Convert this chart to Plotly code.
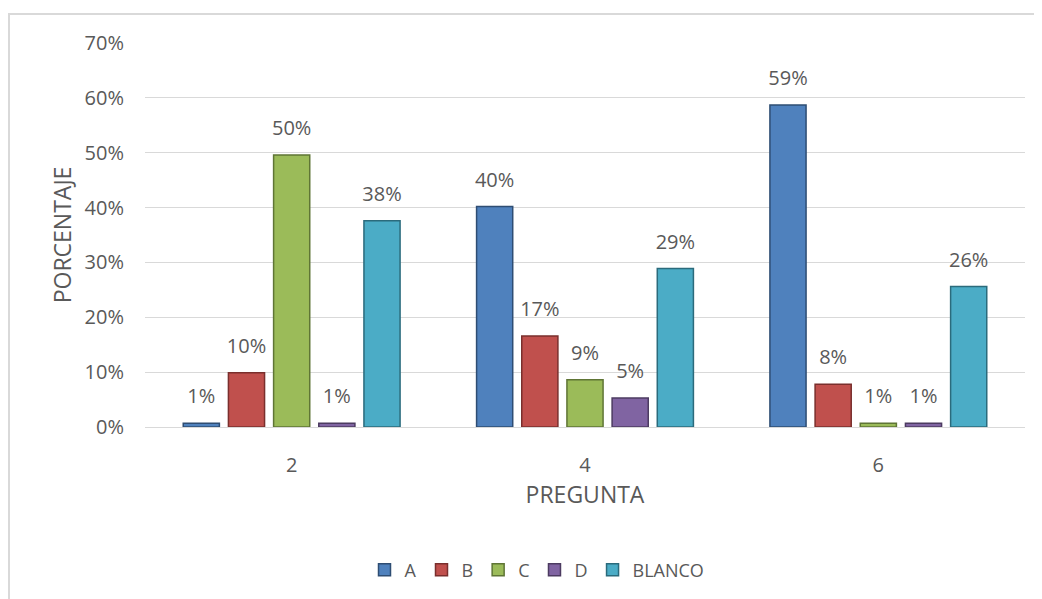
import plotly.graph_objects as go

categories = ["2", "4", "6"]
series_names = ["A", "B", "C", "D", "BLANCO"]
vals_A = [0.007, 0.402, 0.587]
vals_B = [0.099, 0.166, 0.078]
vals_C = [0.496, 0.086, 0.007]
vals_D = [0.007, 0.053, 0.007]
vals_BLANCO = [0.376, 0.289, 0.256]
y_ticks = [0, 0.1, 0.2, 0.3, 0.4, 0.5, 0.6, 0.7]

colors = ["#4F81BD", "#C0504D", "#9BBB59", "#8064A2", "#4BACC6"]
edge = ["#2E4D73", "#7A2F2D", "#5F7535", "#4C3B61", "#2B6B7C"]
series_vals = [vals_A, vals_B, vals_C, vals_D, vals_BLANCO]

# page has an 8px body margin, so the figure is drawn 8px in from the window edge
W, H = 1034, 591
ml, mr, mt, mb = 137, 17, 35, 171
pw, ph = W - ml - mr, H - mt - mb
FONT = "Open Sans, sans-serif"
GRAY = "#595959"

fig = go.Figure()
for name, v, c, e in zip(series_names, series_vals, colors, edge):
    fig.add_trace(go.Bar(
        name=name, x=categories, y=v, offsetgroup=name,
        marker=dict(color=c, line=dict(color=e, width=1.5)),
    ))
for name, v in zip(series_names, series_vals):
    fig.add_trace(go.Scatter(
        name=name, x=categories, y=v, offsetgroup=name,
        mode="markers+text", showlegend=False, hoverinfo="skip",
        marker=dict(size=22, opacity=0),
        text=[f"{round(x*100):.0f}%" for x in v],
        textposition="top center", cliponaxis=False,
        textfont=dict(family=FONT, size=20, color=GRAY),
    ))

fig.update_layout(
    width=W, height=H,
    margin=dict(l=ml, r=mr, t=mt, b=mb),
    paper_bgcolor="white", plot_bgcolor="white",
    barmode="group", bargap=0.23, bargroupgap=0.2,
    scattermode="group", scattergap=0.23,
    font=dict(family=FONT, color=GRAY, size=18),
    xaxis=dict(
        title=dict(text="PREGUNTA", font=dict(size=23, color=GRAY), standoff=8),
        showline=True, linecolor="#D9D9D9", linewidth=1,
        tickfont=dict(size=20, color=GRAY),
        ticks="", showgrid=False, ticklabelstandoff=20,
    ),
    yaxis=dict(
        title=dict(text="PORCENTAJE", font=dict(size=23, color=GRAY), standoff=6),
        range=[0, 0.7], tickvals=y_ticks, tickformat=".0%",
        showgrid=True, gridcolor="#D9D9D9", gridwidth=1,
        zeroline=False, showline=False,
        tickfont=dict(size=20, color=GRAY),
        ticks="", ticklabelstandoff=20,
    ),
    legend=dict(
        orientation="h", x=(529 - ml) / pw, xanchor="center",
        y=(H - mb - 562) / ph, yanchor="middle",
        font=dict(size=18, color=GRAY),
        itemwidth=30, traceorder="normal",
    ),
    shapes=[dict(
        type="rect", xref="paper", yref="paper",
        x0=(1 - ml) / pw, x1=(1060 - ml) / pw,
        y0=(H - mb - 620) / ph, y1=(H - mb - 6) / ph,
        line=dict(color="#D9D9D9", width=2), fillcolor="rgba(0,0,0,0)", layer="below",
    )],
)

fig.write_html("out.html")
